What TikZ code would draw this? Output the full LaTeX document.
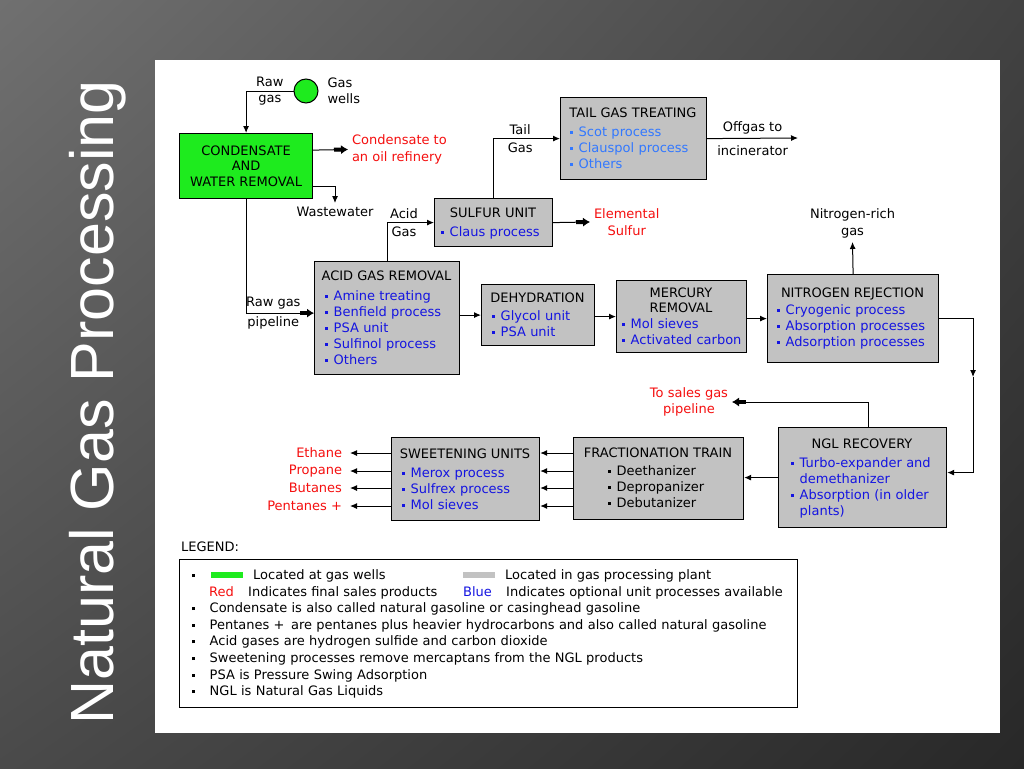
\documentclass[tikz,border=0pt]{standalone}
\usepackage{fontspec}
\setmainfont{DejaVu Sans}
\newfontfamily\slidefont{Liberation Sans}
\usetikzlibrary{arrows.meta,positioning,shadings}
\definecolor{WellGreen}{RGB}{30,235,30}
\definecolor{PlantGray}{RGB}{194,194,194}
\definecolor{OptBlue}{RGB}{20,20,225}
\definecolor{OptLBlue}{RGB}{50,120,255}
\definecolor{SaleRed}{RGB}{245,15,15}
\definecolor{SlideTL}{RGB}{112,112,112}
\definecolor{SlideTR}{RGB}{66,66,66}
\definecolor{SlideBL}{RGB}{74,74,74}
\definecolor{SlideBR}{RGB}{40,40,40}
\newcommand{\itembul}{\raisebox{2.5pt}{\rule{3pt}{3pt}}\hspace{5.5pt}}
\newcommand{\legbul}{\raisebox{2.5pt}{\rule{3pt}{3pt}}\hspace{15pt}}

\tikzset{
  unit/.style={draw=black, line width=1.2pt, fill=PlantGray, anchor=north west, inner sep=0pt},
  title/.style={font=\fontsize{13}{15.5}\selectfont, anchor=base, inner sep=0pt},
  items/.style={font=\fontsize{13}{16}\selectfont, anchor=base west, inner sep=0pt, text width=160pt, align=left, text=OptBlue},
  lbl/.style={font=\fontsize{13}{16.5}\selectfont, inner sep=2pt, outer sep=2pt, align=center},
  sale/.style={lbl, text=SaleRed},
  flow/.style={line width=1pt, -{Latex[length=7pt,width=6pt]}},
  prod/.style={line width=1pt, -{Rectangle[length=7pt,width=4pt]Latex[length=7pt,width=9pt]}},
  legtext/.style={font=\fontsize{13}{16.6}\selectfont, anchor=base west, inner sep=0pt},
}

\begin{document}
\begin{tikzpicture}[x=1pt, y=-1pt]
\pgfmathsetmacro{\xr}{973} % x of the right riser
\pgfmathsetmacro{\lb}{579.5} % first legend baseline

\useasboundingbox (0,0) rectangle (1024,768);
\shade[upper left=SlideTL, upper right=SlideTR, lower left=SlideBL, lower right=SlideBR] (0,0) rectangle (1024,768); %slide background
\fill[white] (155,60) rectangle (1000,733); %white panel
\node[rotate=90, anchor=base, text=white, inner sep=0pt, font=\slidefont\fontsize{61}{61}\selectfont] (slidetitle) at (113,402.5) {Natural Gas Processing};

% units
\node[circle, draw=black, line width=1pt, fill=WellGreen, minimum size=24pt, inner sep=0pt] (well) at (306,91) {};
\node[unit, fill=WellGreen, minimum width=133pt, minimum height=65pt] (cwr) at (179,133) {};
\node[unit, minimum width=146pt, minimum height=82pt] (tgt) at (560,97) {};
\node[unit, minimum width=118pt, minimum height=48pt] (sul) at (434,198) {};
\node[unit, minimum width=145pt, minimum height=113pt] (agr) at (314,261) {};
\node[unit, minimum width=113pt, minimum height=61pt] (dehy) at (481,284) {};
\node[unit, minimum width=130pt, minimum height=72pt] (hg) at (616,280) {};
\node[unit, minimum width=171pt, minimum height=88pt] (nrj) at (767,274) {};
\node[unit, minimum width=168pt, minimum height=100pt] (ngl) at (778,427) {};
\node[unit, minimum width=170pt, minimum height=82pt] (frac) at (573,437) {};
\node[unit, minimum width=148pt, minimum height=83pt] (sweet) at (391,437) {};

% unit texts
\node[title, anchor=center, align=center] (cwr-t) at (cwr.center) {CONDENSATE\\AND\\WATER REMOVAL};
\node[title] (tgt-t) at (633,117) {TAIL GAS TREATING};
\node[items, text=OptLBlue] (tgt-l) at (570,136) {\itembul Scot process\\\itembul Clauspol process\\\itembul Others};
\node[title] (sul-t) at (493,217) {SULFUR UNIT};
\node[items] (sul-l) at (441,236) {\itembul Claus process};
\node[title] (agr-t) at (386.5,280) {ACID GAS REMOVAL};
\node[items] (agr-l) at (325,300) {\itembul Amine treating\\\itembul Benfield process\\\itembul PSA unit\\\itembul Sulfinol process\\\itembul Others};
\node[title] (dehy-t) at (537.5,302) {DEHYDRATION};
\node[items] (dehy-l) at (492,320) {\itembul Glycol unit\\\itembul PSA unit};
\node[title, anchor=north, align=center] (hg-t) at (681,287.5) {MERCURY\\REMOVAL};
\node[items] (hg-l) at (622,328) {\itembul Mol sieves\\\itembul Activated carbon};
\node[title] (nrj-t) at (852.5,297) {NITROGEN REJECTION};
\node[items] (nrj-l) at (777,314) {\itembul Cryogenic process\\\itembul Absorption processes\\\itembul Adsorption processes};
\node[title] (ngl-t) at (862,448) {NGL RECOVERY};
\node[items] (ngl-l) at (791,467) {\itembul Turbo-expander and\\\hphantom{\itembul}demethanizer\\\itembul Absorption (in older\\\hphantom{\itembul}plants)};
\node[title] (frac-t) at (658,457) {FRACTIONATION TRAIN};
\node[items, text=black] (frac-l) at (608,475) {\itembul Deethanizer\\\itembul Depropanizer\\\itembul Debutanizer};
\node[title] (sweet-t) at (465,458) {SWEETENING UNITS};
\node[items] (sweet-l) at (402,477) {\itembul Merox process\\\itembul Sulfrex process\\\itembul Mol sieves};

% end labels
\node[lbl, anchor=west, align=left] (wells) at ([xshift=5pt]well.east) {Gas\\wells};
\node[sale, anchor=west, align=left] (cond) at (348,149.5) {Condensate to\\an oil refinery};
\node[lbl, anchor=north] (ww) at (335,203) {Wastewater};
\node[sale, anchor=west] (elem) at (590,222) {Elemental\\Sulfur};
\node[lbl, anchor=south] (n2) at (852.5,242) {Nitrogen-rich\\gas};
\node[sale, anchor=east] (sales) at (732,402) {To sales gas\\pipeline};
\node[sale, anchor=east, inner xsep=6pt] (eth) at (350,453) {Ethane};
\node[sale, anchor=east, inner xsep=6pt] (pro) at (350,471) {Propane};
\node[sale, anchor=east, inner xsep=6pt] (but) at (350,488) {Butanes};
\node[sale, anchor=east, inner xsep=6pt] (pen) at (350,506) {Pentanes +};
\coordinate (offend) at (798,138);
\coordinate (turn) at (\xr,377);

% connectors
\draw[flow] (well.west) -| (cwr.north) node[lbl, above, pos=0.25] {Raw} node[lbl, below, pos=0.25] {gas};
\draw[prod] ([yshift=16pt]cwr.east) -- (cond.west);
\draw[flow] ([yshift=-20pt]cwr.east) -| (ww.north);
\draw[prod] (cwr.south) |- ([yshift=5pt]agr.west) node[lbl, above, pos=0.7] {Raw gas} node[lbl, below, pos=0.7] {pipeline};
\draw[flow] (agr.north) |- (sul.west) node[lbl, above, pos=0.68] {Acid} node[lbl, below, pos=0.68] {Gas};
\draw[flow] (sul.north) |- (tgt.west) node[lbl, above, pos=0.7] {Tail} node[lbl, below, pos=0.7] {Gas};
\draw[prod] (sul.east) -- (elem.west);
\draw[flow] (tgt.east) -- (offend) node[lbl, above, midway] {Offgas to} node[lbl, below=3pt, midway] {incinerator};
\draw[flow] (agr.east |- dehy.west) -- (dehy.west);
\draw[flow] (dehy.east |- hg.west) -- (hg.west);
\draw[flow] (hg.east |- nrj.west) -- (nrj.west);
\draw[flow] (nrj.north) -- (n2.south);
\draw[flow] (nrj.east) -| (turn);
\draw[flow] (turn) |- ([yshift=5pt]ngl.east);
\draw[prod] ([xshift=6pt]ngl.north) |- (sales.east);
\draw[flow] (ngl.west) -- (ngl.west -| frac.east);
\foreach \p in {eth,pro,but,pen} {
  \draw[flow] (frac.west |- \p) -- (sweet.east |- \p);
  \draw[flow] (sweet.west |- \p) -- (\p.east);
}

% legend
\node[legtext] (leg-h) at (181,551) {LEGEND:};
\node[draw=black, line width=1pt, anchor=north west, inner sep=0pt, minimum width=618pt, minimum height=148pt] (legend) at (179,559) {};
\node[legtext] (leg-b) at (191.5,\lb) {\legbul};
\fill[WellGreen] (211,572) rectangle (243,578); %green swatch
\node[legtext] (leg-g) at (253,\lb) {Located at gas wells};
\fill[PlantGray] (463,572) rectangle (495,578); %gray swatch
\node[legtext] (leg-p) at (505,\lb) {Located in gas processing plant};
\node[legtext, text=SaleRed] (leg-r) at (209,\lb+16.6) {Red};
\node[legtext] (leg-rt) at (248,\lb+16.6) {Indicates final sales products};
\node[legtext, text=OptBlue] (leg-u) at (463,\lb+16.6) {Blue};
\node[legtext] (leg-ut) at (506,\lb+16.6) {Indicates optional unit processes available};
\node[legtext, text width=600pt, align=left] (leg-n) at (191.5,\lb+33.2) {\legbul Condensate is also called natural gasoline or casinghead gasoline\\\legbul Pentanes +\, are pentanes plus heavier hydrocarbons and also called natural gasoline\\\legbul Acid gases are hydrogen sulfide and carbon dioxide\\\legbul Sweetening processes remove mercaptans from the NGL products\\\legbul PSA is Pressure Swing Adsorption\\\legbul NGL is Natural Gas Liquids};

\end{tikzpicture}
\end{document}
